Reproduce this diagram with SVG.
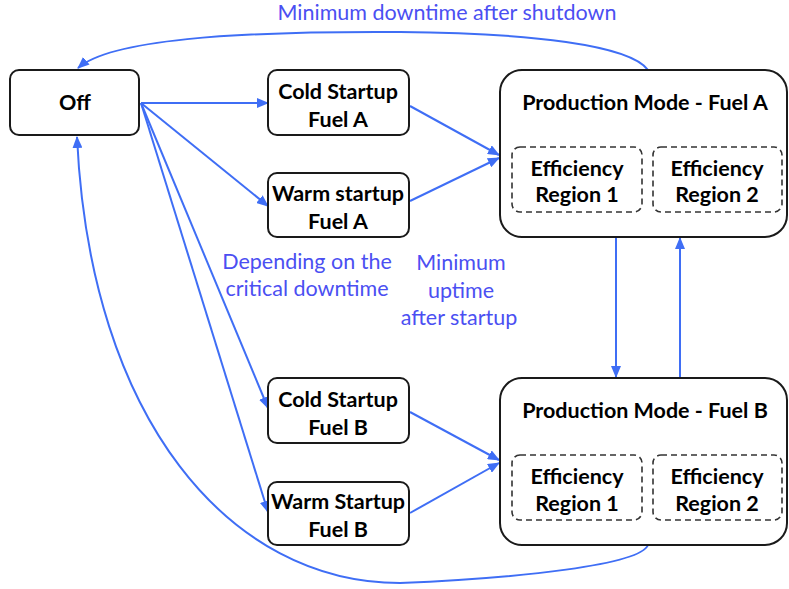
<svg xmlns="http://www.w3.org/2000/svg" width="789" height="589" viewBox="0 0 789 589">
  <style>
    .box { fill: #ffffff; stroke: #1a1a1a; stroke-width: 2; }
    .region { fill: none; stroke: #333333; stroke-width: 1.6; stroke-dasharray: 6 4; }
    .lbl { font-family: Lato, "Open Sans", "Liberation Sans", sans-serif; font-weight: bold; font-size: 21.5px; fill: #000000; text-anchor: middle; }
    .note { font-family: Lato, "Open Sans", "Liberation Sans", sans-serif; font-size: 21.5px; fill: #4b4ff2; text-anchor: middle; }
    .edge { fill: none; stroke: #3f6ef5; stroke-width: 2; }
  </style>
  <defs>
    <marker id="arrow" viewBox="0 0 12 10" refX="11" refY="5" markerWidth="12" markerHeight="10" markerUnits="userSpaceOnUse" orient="auto">
      <path d="M0,0 L12,5 L0,10 Z" fill="#3f6ef5"/>
    </marker>
  </defs>

  <g id="connectors">
    <!-- shutdown return from fuel A -->
    <path class="edge" d="M648,70 C630,45 530,33 400,32 C230,31 110,40 78,68" marker-end="url(#arrow)"/>
    <!-- shutdown return from fuel B -->
    <path class="edge" d="M648,545 C640,565 520,578 400,583 C230,583 90,420 77,137" marker-end="url(#arrow)"/>
    <!-- startups out of Off -->
    <path class="edge" d="M141,103 L268,103" marker-end="url(#arrow)"/>
    <path class="edge" d="M141,103 L268,206" marker-end="url(#arrow)"/>
    <path class="edge" d="M141,103 L268,408" marker-end="url(#arrow)"/>
    <path class="edge" d="M141,103 L268,512" marker-end="url(#arrow)"/>
    <!-- startups into production -->
    <path class="edge" d="M410,106 L499,155" marker-end="url(#arrow)"/>
    <path class="edge" d="M410,201 L499,158" marker-end="url(#arrow)"/>
    <path class="edge" d="M410,412 L499,460" marker-end="url(#arrow)"/>
    <path class="edge" d="M410,513 L499,463" marker-end="url(#arrow)"/>
    <!-- fuel switching -->
    <path class="edge" d="M616,238 L616,377" marker-end="url(#arrow)"/>
    <path class="edge" d="M680,377 L680,238" marker-end="url(#arrow)"/>
  </g>

  <g id="labels">
    <text class="note" x="447" y="20">Minimum downtime after shutdown</text>
    <text class="note" x="307" y="269">Depending on the</text>
    <text class="note" x="307" y="296">critical downtime</text>
    <text class="note" x="461" y="270">Minimum</text>
    <text class="note" x="461" y="298">uptime</text>
    <text class="note" x="459" y="325">after startup</text>
  </g>

  <g id="off">
    <rect class="box" x="10" y="70" width="129" height="65" rx="9"/>
    <text class="lbl" x="75" y="110">Off</text>
  </g>

  <g id="cold-a">
    <rect class="box" x="268" y="70" width="141" height="65" rx="9"/>
    <text class="lbl" x="338" y="99">Cold Startup</text>
    <text class="lbl" x="338" y="127">Fuel A</text>
  </g>

  <g id="warm-a">
    <rect class="box" x="268" y="173" width="141" height="64" rx="9"/>
    <text class="lbl" x="338" y="201">Warm startup</text>
    <text class="lbl" x="338" y="229">Fuel A</text>
  </g>

  <g id="cold-b">
    <rect class="box" x="268" y="378" width="141" height="65" rx="9"/>
    <text class="lbl" x="338" y="407">Cold Startup</text>
    <text class="lbl" x="338" y="435">Fuel B</text>
  </g>

  <g id="warm-b">
    <rect class="box" x="268" y="482" width="141" height="63" rx="9"/>
    <text class="lbl" x="338" y="509">Warm Startup</text>
    <text class="lbl" x="338" y="537">Fuel B</text>
  </g>

  <g id="prod-a">
    <rect class="box" x="500" y="70" width="287" height="167" rx="22"/>
    <text class="lbl" x="645" y="110">Production Mode - Fuel A</text>
    <rect class="region" x="512" y="147" width="130" height="65" rx="8"/>
    <text class="lbl" x="577" y="176">Efficiency</text>
    <text class="lbl" x="577" y="202">Region 1</text>
    <rect class="region" x="653" y="147" width="129" height="65" rx="8"/>
    <text class="lbl" x="717" y="176">Efficiency</text>
    <text class="lbl" x="717" y="202">Region 2</text>
  </g>

  <g id="prod-b">
    <rect class="box" x="500" y="378" width="287" height="167" rx="22"/>
    <text class="lbl" x="645" y="418">Production Mode - Fuel B</text>
    <rect class="region" x="512" y="455" width="130" height="65" rx="8"/>
    <text class="lbl" x="577" y="484">Efficiency</text>
    <text class="lbl" x="577" y="511">Region 1</text>
    <rect class="region" x="653" y="455" width="129" height="65" rx="8"/>
    <text class="lbl" x="717" y="484">Efficiency</text>
    <text class="lbl" x="717" y="511">Region 2</text>
  </g>
</svg>
